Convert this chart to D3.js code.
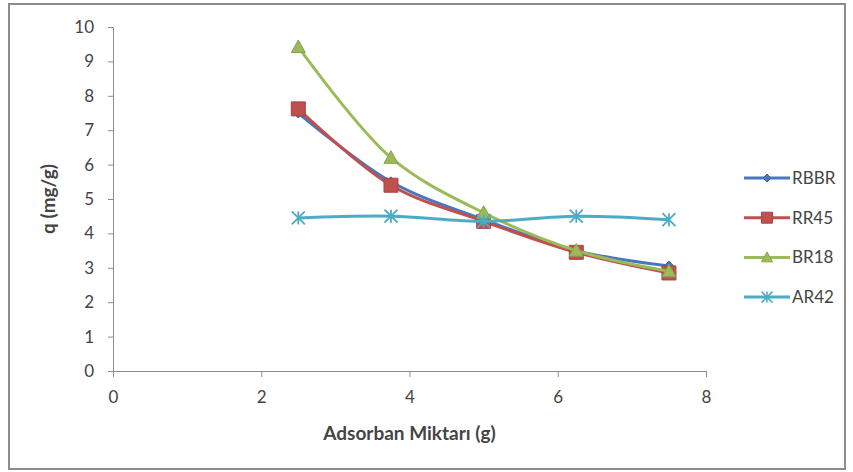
<!DOCTYPE html>
<html>
<head>
<meta charset="utf-8">
<script src="https://cdn.jsdelivr.net/npm/d3@7/dist/d3.min.js"></script>
<style>
  html, body { margin: 0; padding: 0; background: #fff; }
  svg { display: block; }
  text { font-family: Lato, "Open Sans", sans-serif; fill: #444; }
</style>
</head>
<body>
<script>
// Adsorbent amount (g) and uptake q (mg/g) per dye
const doses = [2.5, 3.75, 5, 6.25, 7.5];
const seriesNames = ["RBBR", "RR45", "BR18", "AR42"];
const rbbr = [7.5, 5.5, 4.4, 3.5, 3.05];
const rr45 = [7.62, 5.4, 4.35, 3.45, 2.85];
const br18 = [9.42, 6.2, 4.6, 3.5, 2.9];
const ar42 = [4.45, 4.5, 4.35, 4.5, 4.4];
const xTicks = [0, 2, 4, 6, 8];
const yTicks = [0, 1, 2, 3, 4, 5, 6, 7, 8, 9, 10];

const W = 853, H = 472;
const colors = { RBBR: "#4a76be", RR45: "#c0504d", BR18: "#9bbb59", AR42: "#4bacc6" };
const markers = { RBBR: "diamond", RR45: "square", BR18: "triangle", AR42: "star" };
const values = { RBBR: rbbr, RR45: rr45, BR18: br18, AR42: ar42 };

const svg = d3.select("body").append("svg").attr("width", W).attr("height", H);

// chart frame
svg.append("rect").attr("x", 9).attr("y", 4).attr("width", 836).attr("height", 465)
  .attr("fill", "#fff").attr("stroke", "#8c8c8c").attr("stroke-width", 2);

const x = d3.scaleLinear().domain([0, 8]).range([113, 706]);
const y = d3.scaleLinear().domain([0, 10]).range([371, 27]);

// axes
const yAxis = svg.append("g").attr("transform", `translate(${x(0)},0)`)
  .call(d3.axisLeft(y).tickValues(yTicks).tickSize(5).tickSizeOuter(0).tickPadding(14));
const xAxis = svg.append("g").attr("transform", `translate(0,${y(0)})`)
  .call(d3.axisBottom(x).tickValues(xTicks).tickSize(6).tickSizeOuter(0).tickPadding(14));
[yAxis, xAxis].forEach(g => {
  g.select(".domain").attr("stroke", "#8c8c8c").attr("stroke-width", 1);
  g.selectAll(".tick line").attr("stroke", "#8c8c8c");
  g.selectAll(".tick text").style("font-size", "17px").style("font-family", "Lato, sans-serif").attr("fill", "#444");
});

// axis titles
svg.append("text").attr("x", (x(0) + x(8)) / 2).attr("y", 440)
  .attr("text-anchor", "middle").style("font-size", "19px").style("font-weight", "bold")
  .attr("fill", "#333").text("Adsorban Miktarı (g)");
svg.append("text").attr("transform", `translate(55,${y(5)}) rotate(-90)`)
  .attr("text-anchor", "middle").style("font-size", "19px").style("font-weight", "bold")
  .attr("fill", "#333").text("q (mg/g)");

function markerPath(kind, s) {
  const h = s / 2;
  switch (kind) {
    case "diamond": return `M0,${-h}L${h},0L0,${h}L${-h},0Z`;
    case "square": return `M${-h},${-h}H${h}V${h}H${-h}Z`;
    case "triangle": return `M0,${-h}L${h},${h * 0.8}L${-h},${h * 0.8}Z`;
    case "star": return `M${-h},${-h}L${h},${h}M${-h},${h}L${h},${-h}M0,${-h}V${h}`;
  }
}
const markerSize = { diamond: 10, square: 14, triangle: 14, star: 13 };

const line = d3.line().x(d => x(d[0])).y(d => y(d[1])).curve(d3.curveCatmullRom.alpha(0.5));

seriesNames.forEach(name => {
  const pts = doses.map((d, i) => [d, values[name][i]]);
  const g = svg.append("g");
  g.append("path").datum(pts).attr("d", line).attr("fill", "none")
    .attr("stroke", colors[name]).attr("stroke-width", 3);
  const kind = markers[name];
  g.selectAll("path.m").data(pts).join("path").attr("class", "m")
    .attr("transform", d => `translate(${x(d[0])},${y(d[1])})`)
    .attr("d", markerPath(kind, markerSize[kind]))
    .attr("fill", kind === "star" ? "none" : colors[name])
    .attr("stroke", kind === "star" ? colors[name] : d3.color(colors[name]).darker(0.4))
    .attr("stroke-width", kind === "star" ? 1.8 : 1);
});

// legend
const legend = svg.append("g");
seriesNames.forEach((name, i) => {
  const ly = 178 + i * 39.7;
  const kind = markers[name];
  legend.append("line").attr("x1", 744).attr("x2", 790).attr("y1", ly).attr("y2", ly)
    .attr("stroke", colors[name]).attr("stroke-width", 3);
  legend.append("path").attr("transform", `translate(767,${ly})`)
    .attr("d", markerPath(kind, kind === "diamond" ? 8 : 11))
    .attr("fill", kind === "star" ? "none" : colors[name])
    .attr("stroke", kind === "star" ? colors[name] : d3.color(colors[name]).darker(0.4))
    .attr("stroke-width", kind === "star" ? 1.5 : 1);
  legend.append("text").attr("x", 792).attr("y", ly).attr("dy", "0.35em")
    .style("font-size", "17px").attr("fill", "#444").text(name);
});
</script>
</body>
</html>
